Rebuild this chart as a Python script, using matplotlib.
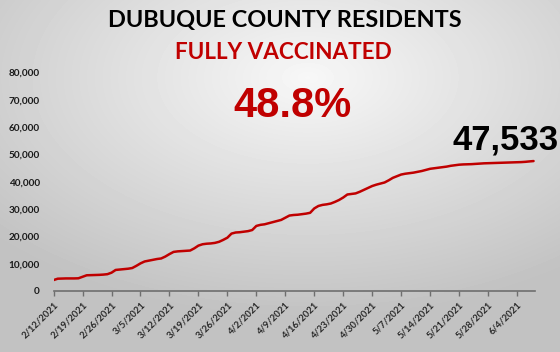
import matplotlib
matplotlib.use('Agg')
import matplotlib.pyplot as plt
from matplotlib import ticker
import numpy as np
import pandas as pd

# fully vaccinated residents, one value per day from 2/12/2021 to 6/8/2021
start_date = '2021-02-12'
vaccinated = [
    4000, 4500, 4550, 4600, 4600, 4600, 4650,
    5200, 5750, 5800, 5850, 5900, 6000, 6150,
    6700, 7700, 7850, 8000, 8150, 8400, 9200,
    10100, 10800, 11100, 11400, 11700, 11900, 12600,
    13500, 14300, 14500, 14600, 14700, 14800, 15600,
    16600, 17100, 17300, 17400, 17600, 18000, 18700,
    19500, 21000, 21400, 21500, 21700, 21900, 22300,
    23800, 24200, 24400, 24800, 25200, 25600, 26000,
    26800, 27600, 27800, 27900, 28100, 28300, 28600,
    30200, 31100, 31500, 31700, 32000, 32600, 33300,
    34200, 35300, 35500, 35700, 36300, 37000, 37700,
    38400, 38900, 39300, 39700, 40500, 41400, 42000,
    42600, 42900, 43100, 43300, 43600, 43900, 44300,
    44700, 44900, 45100, 45300, 45500, 45800, 46000,
    46200, 46300, 46350, 46400, 46500, 46600, 46700,
    46750, 46800, 46850, 46900, 46950, 47000, 47050,
    47100, 47150, 47250, 47400, 47533,
]
latest_label = '47,533'
percent_label = '48.8%'
y_ticks = [0, 10000, 20000, 30000, 40000, 50000, 60000, 70000, 80000]

dates = pd.date_range(start_date, periods=len(vaccinated), freq='D')
days = np.arange(len(vaccinated))
tick_days = days[::7]
tick_labels = [f'{d.month}/{d.day}/{d.year}' for d in dates[::7]]

fig = plt.figure(figsize=(5.6, 3.52), dpi=100)

# soft grey gradient background, lightest near the top centre
bg = fig.add_axes([0, 0, 1, 1], zorder=-10)
yy, xx = np.mgrid[0:1:352j, 0:1:560j]
dist = np.sqrt(((xx - 0.55) * 1.0) ** 2 + ((yy - 0.22) * 1.1) ** 2)
shade = np.clip(0.97 - 0.28 * dist, 0.76, 0.97)
bg.imshow(shade, cmap='gray', vmin=0, vmax=1, aspect='auto',
          extent=[0, 1, 0, 1], origin='upper')
bg.axis('off')

ax = fig.add_axes([0.0957, 0.1733, 0.8593, 0.6213])
ax.patch.set_alpha(0)
ax.plot(days, vaccinated, color='#C00000', lw=1.8, solid_capstyle='round')
ax.set_xlim(0, 116.3)
ax.set_ylim(0, 80000)

ax.set_yticks(y_ticks)
ax.yaxis.set_major_formatter(ticker.FuncFormatter(lambda v, pos: f'{v:,.0f}'))
ax.set_xticks(tick_days)
ax.set_xticklabels(tick_labels, rotation=45, ha='right', rotation_mode='anchor')

for side in ['top', 'right', 'left']:
    ax.spines[side].set_visible(False)
ax.spines['bottom'].set_color('#6e6e6e')
ax.spines['bottom'].set_linewidth(1.2)
ax.tick_params(axis='y', length=0, pad=10, labelsize=7.2, labelcolor='#1a1a1a')
ax.tick_params(axis='x', direction='out', length=3.5, width=1, color='#6e6e6e',
               pad=3, labelsize=6.8, labelcolor='#2a2a2a')
for lbl in ax.get_yticklabels() + ax.get_xticklabels():
    lbl.set_fontfamily('Lato')
    lbl.set_fontweight('bold')

fig.text(0.508, 0.943, 'DUBUQUE COUNTY RESIDENTS', ha='center', va='center',
         fontsize=16.9, fontweight='bold', family='Lato', color='black')
fig.text(0.506, 0.85, 'FULLY VACCINATED', ha='center', va='center',
         fontsize=16.2, fontweight='bold', family='Lato', color='#C00000')
fig.text(0.522, 0.70, percent_label, ha='center', va='center',
         fontsize=30, fontweight='bold', family='Liberation Sans', color='#C00000')
fig.text(0.903, 0.603, latest_label, ha='center', va='center',
         fontsize=25, fontweight='bold', family='Liberation Sans', color='black')

fig.savefig('out.png', dpi=100)
